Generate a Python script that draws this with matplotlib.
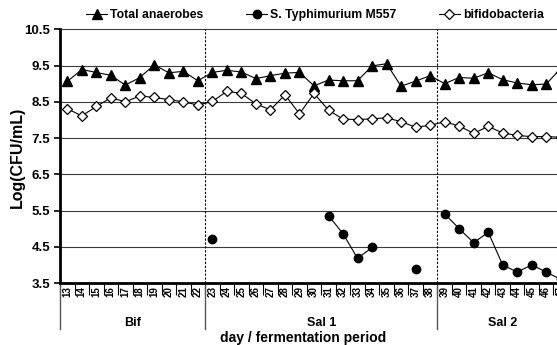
import numpy as np
import matplotlib
matplotlib.use("Agg")
import matplotlib.pyplot as plt
from matplotlib.lines import Line2D
import matplotlib.transforms as mtransforms

days = list(range(13, 48))
groups = ["Bif", "Sal 1", "Sal 2"]
group_sizes = [10, 16, 9]

total_anaerobes = [9.06, 9.39, 9.31, 9.23, 8.96, 9.17, 9.52, 9.30, 9.34, 9.08,
                   9.31, 9.37, 9.32, 9.14, 9.22, 9.29, 9.31, 8.94, 9.10, 9.08,
                   9.08, 9.49, 9.55, 8.93, 9.07, 9.22, 9.00, 9.17, 9.15, 9.30,
                   9.11, 9.02, 8.97, 8.99, 9.42]
salmonella = [np.nan] * 10 + [4.71, np.nan, np.nan, np.nan, np.nan, np.nan, np.nan, np.nan,
              5.36, 4.86, 4.18, 4.48, np.nan, np.nan, 3.90, np.nan,
              5.41, 5.00, 4.61, 4.90, 4.00, 3.80, 4.00, 3.80, 3.60]
bifido = [8.31, 8.11, 8.37, 8.61, 8.50, 8.66, 8.62, 8.56, 8.50, 8.41,
          8.51, 8.79, 8.73, 8.44, 8.28, 8.69, 8.17, 8.73, 8.27, 8.02,
          8.01, 8.03, 8.06, 7.95, 7.80, 7.85, 7.95, 7.83, 7.63, 7.82,
          7.64, 7.57, 7.54, 7.54, 7.52]
yticks = [3.5, 4.5, 5.5, 6.5, 7.5, 8.5, 9.5, 10.5]

plt.rcParams['font.family'] = ['Liberation Sans', 'DejaVu Sans']
plt.rcParams['font.weight'] = 'bold'

W, H = 557, 345
fig = plt.figure(figsize=(W / 100, H / 100), dpi=100)
left, right, top, bottom = 60, 568, 29.3, 283
ax = fig.add_axes([left / W, (H - bottom) / H, (right - left) / W, (bottom - top) / H])

x = np.arange(len(days))
lw = 0.8
ax.plot(x, total_anaerobes, color='black', lw=lw, marker='^', ms=6.5,
        mfc='black', mec='black', clip_on=False, zorder=3)
ax.plot(x, salmonella, color='black', lw=lw, marker='o', ms=6,
        mfc='black', mec='black', clip_on=False, zorder=3)
ax.plot(x, bifido, color='black', lw=lw, marker='D', ms=4.6,
        mfc='white', mec='black', mew=0.9, clip_on=False, zorder=3)

ax.set_xlim(-0.5, len(days) - 0.5)
ax.set_ylim(3.5, 10.5)
ax.set_yticks(yticks)
ax.set_yticklabels([f"{v:.1f}" for v in yticks], fontsize=9.5, fontweight='bold')
ax.tick_params(axis='y', length=4, width=1.2, pad=3)
for v in yticks[1:]:
    ax.axhline(v, color='#3a3a3a', lw=0.8, zorder=1, clip_on=False)

ax.set_xticks(x)
ax.set_xticklabels([str(d) for d in days], rotation=90, fontsize=7, fontweight='bold')
ax.tick_params(axis='x', which='major', length=0, pad=2)
ax.set_xticks(np.arange(-0.5, len(days) + 0.5, 1), minor=True)
ax.tick_params(axis='x', which='minor', length=8.6, width=0.8, color='black')

for s in ['top', 'right']:
    ax.spines[s].set_visible(False)
ax.spines['left'].set_linewidth(2)
ax.spines['bottom'].set_linewidth(2)

# period separators
trans = mtransforms.blended_transform_factory(ax.transData, ax.transAxes)
bounds = np.cumsum([0] + group_sizes) - 0.5
for b in bounds[1:-1]:
    ax.axvline(b, color='black', lw=0.8, ls=(0, (2, 1.5)), zorder=2)
for b in bounds:
    ax.plot([b, b], [0, -(329 - 283) / (bottom - top)], transform=trans,
            color='#555555', lw=1, clip_on=False)
for g, a, b in zip(groups, bounds[:-1], bounds[1:]):
    ax.text((a + b) / 2, -(323 - 283) / (bottom - top), g, transform=trans,
            ha='center', va='center', fontsize=9, fontweight='bold')

fig.text(303 / W, 1 - 338 / H, "day / fermentation period", ha='center', va='center',
         fontsize=10, fontweight='bold')
fig.text(17 / W, 1 - 157 / H, "Log(CFU/mL)", ha='center', va='center', rotation=90,
         fontsize=11.5, fontweight='bold')

handles = [
    Line2D([], [], color='black', lw=lw, marker='^', ms=6.5, mfc='black'),
    Line2D([], [], color='black', lw=lw, marker='o', ms=6, mfc='black'),
    Line2D([], [], color='black', lw=lw, marker='D', ms=4.6, mfc='white', mew=0.9),
]
labels = ["Total anaerobes", "S. Typhimurium M557", "bifidobacteria"]
leg = fig.legend(handles, labels, loc='center', bbox_to_anchor=(315 / W, 1 - 15 / H),
                 ncol=3, frameon=False, handlelength=1.7, handletextpad=0.25,
                 columnspacing=3.5, prop={'weight': 'bold', 'size': 8.8})

fig.savefig("out.png", dpi=100)
